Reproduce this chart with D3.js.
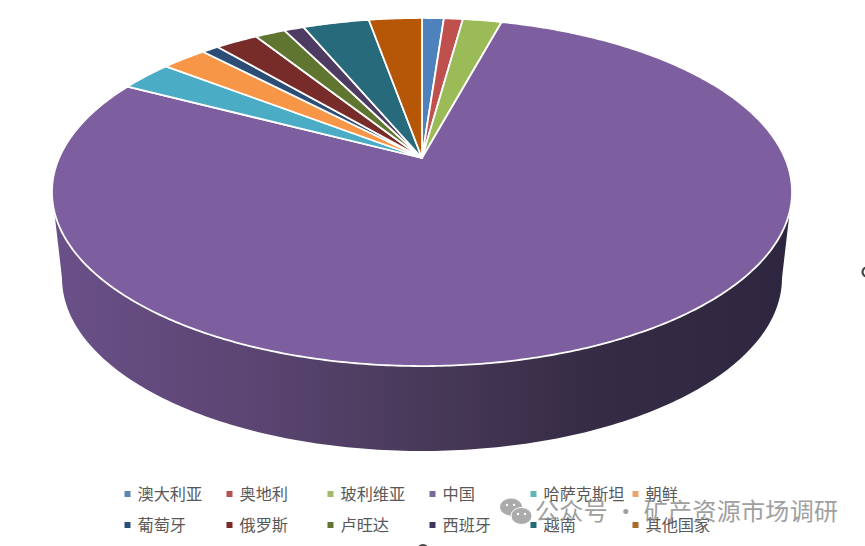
<!DOCTYPE html>
<html><head><meta charset="utf-8">
<style>html,body{margin:0;padding:0;background:#fff;overflow:hidden}svg{display:block}</style>
<script src="https://cdn.jsdelivr.net/npm/d3@7/dist/d3.min.js"></script>
</head><body><svg id="c" width="865" height="546"></svg>
<script>
const categories=["澳大利亚","奥地利","玻利维亚","中国","哈萨克斯坦","朝鲜","葡萄牙","俄罗斯","卢旺达","西班牙","越南","其他国家"];
const values=[1.15,1.0,2.05,78.5,2.8,2.4,0.9,2.25,1.6,1.05,3.5,2.8];
const colors=["#4f81bd","#c0504d","#9bbb59","#7d5f9f","#4bacc6","#f79646","#2c4d75","#772c2a","#5f7530","#4d3b62","#276a7c","#b65708"];
const legendColors=["#5b85ad","#b5524f","#a3b96b","#7a6a9c","#62b5b5","#e8a56c","#2c4d75","#772c2a","#5f7530","#3f3560","#276a7c","#a8692a"];
const legendCols=[127,229,330,432,533,635];
const legendRows=[494,525];
const watermark="公众号 · 矿产资源市场调研";

const svg=d3.select("#c");
const color=d3.scaleOrdinal(categories,colors);
const legendColor=d3.scaleOrdinal(categories,legendColors);

// Perspective projection of the unit disc to the screen
const apex={x:422,y:158},p=0.1954,k=362.9,m=167.4;
const project=a=>{const u=Math.sin(a),v=-Math.cos(a),w=1-p*v;return [apex.x+k*u/w,apex.y+m*v/w];};

const arcs=d3.pie().sort(null).value(d=>d)(values);
const line=d3.line();
const rim=(a0,a1)=>{const n=Math.max(2,Math.ceil((a1-a0)/0.01));return d3.range(n+1).map(i=>project(a0+(a1-a0)*i/n));};

// side wall
const defs=svg.append("defs");
const g=defs.append("linearGradient").attr("id","side").attr("gradientUnits","userSpaceOnUse")
  .attr("x1",52).attr("x2",792).attr("y1",0).attr("y2",0);
[[0,"#6a5088"],[0.27,"#5b4572"],[0.5,"#483959"],[0.74,"#352b44"],[1,"#2e2640"]].forEach(s=>g.append("stop").attr("offset",s[0]).attr("stop-color",s[1]));
const bc={x:422,y:278,rx:360,ry:173};
const bottom=d3.range(0,181).map(d=>{const t=d*Math.PI/180;return [bc.x+bc.rx*Math.cos(t),bc.y+bc.ry*Math.sin(t)];});
svg.append("path").attr("d",line([[792,192],...bottom,[52,192]])+"Z").attr("fill","url(#side)");

// slices on top
svg.append("g").selectAll("path").data(arcs).join("path")
  .attr("d",d=>line([[apex.x,apex.y],...rim(d.startAngle,d.endAngle)])+"Z")
  .attr("fill",(d,i)=>color(categories[i]))
  .attr("stroke","#fff").attr("stroke-width",1.8).attr("stroke-linejoin","round");

// legend
const lg=svg.append("g").selectAll("g").data(categories).join("g")
  .attr("transform",(d,i)=>`translate(${legendCols[i%6]},${legendRows[Math.floor(i/6)]})`);
lg.append("rect").attr("x",-2.5).attr("y",-3).attr("width",6).attr("height",6).attr("fill",d=>legendColor(d));
lg.append("text").attr("x",10.5).attr("y",6).attr("font-family","'Noto Sans CJK SC'").attr("font-size",16.2).attr("fill","#595959").text(d=>d);

// selection handles cut by the frame
svg.append("circle").attr("cx",867).attr("cy",272).attr("r",4.5).attr("fill","none").attr("stroke","#444").attr("stroke-width",2.2);
svg.append("circle").attr("cx",423).attr("cy",550).attr("r",6).attr("fill","#444");

// watermark
const wm=svg.append("g").attr("opacity",0.9);
wm.append("ellipse").attr("cx",511).attr("cy",507).attr("rx",11).attr("ry",8.5).attr("fill","#a2a2a2");
wm.append("ellipse").attr("cx",521.5).attr("cy",516).attr("rx",10.5).attr("ry",8.5).attr("fill","#a2a2a2").attr("stroke","#fff").attr("stroke-width",1);
[[507,505],[514,505],[518,514],[525,514]].forEach(e=>wm.append("circle").attr("cx",e[0]).attr("cy",e[1]).attr("r",1.2).attr("fill","#fff"));
svg.append("text").attr("x",535).attr("y",520).attr("font-family","'Noto Sans CJK SC'").attr("font-size",24).attr("fill","#8f8f8f").attr("opacity",0.85).attr("textLength",303).text(watermark);
</script></body></html>
